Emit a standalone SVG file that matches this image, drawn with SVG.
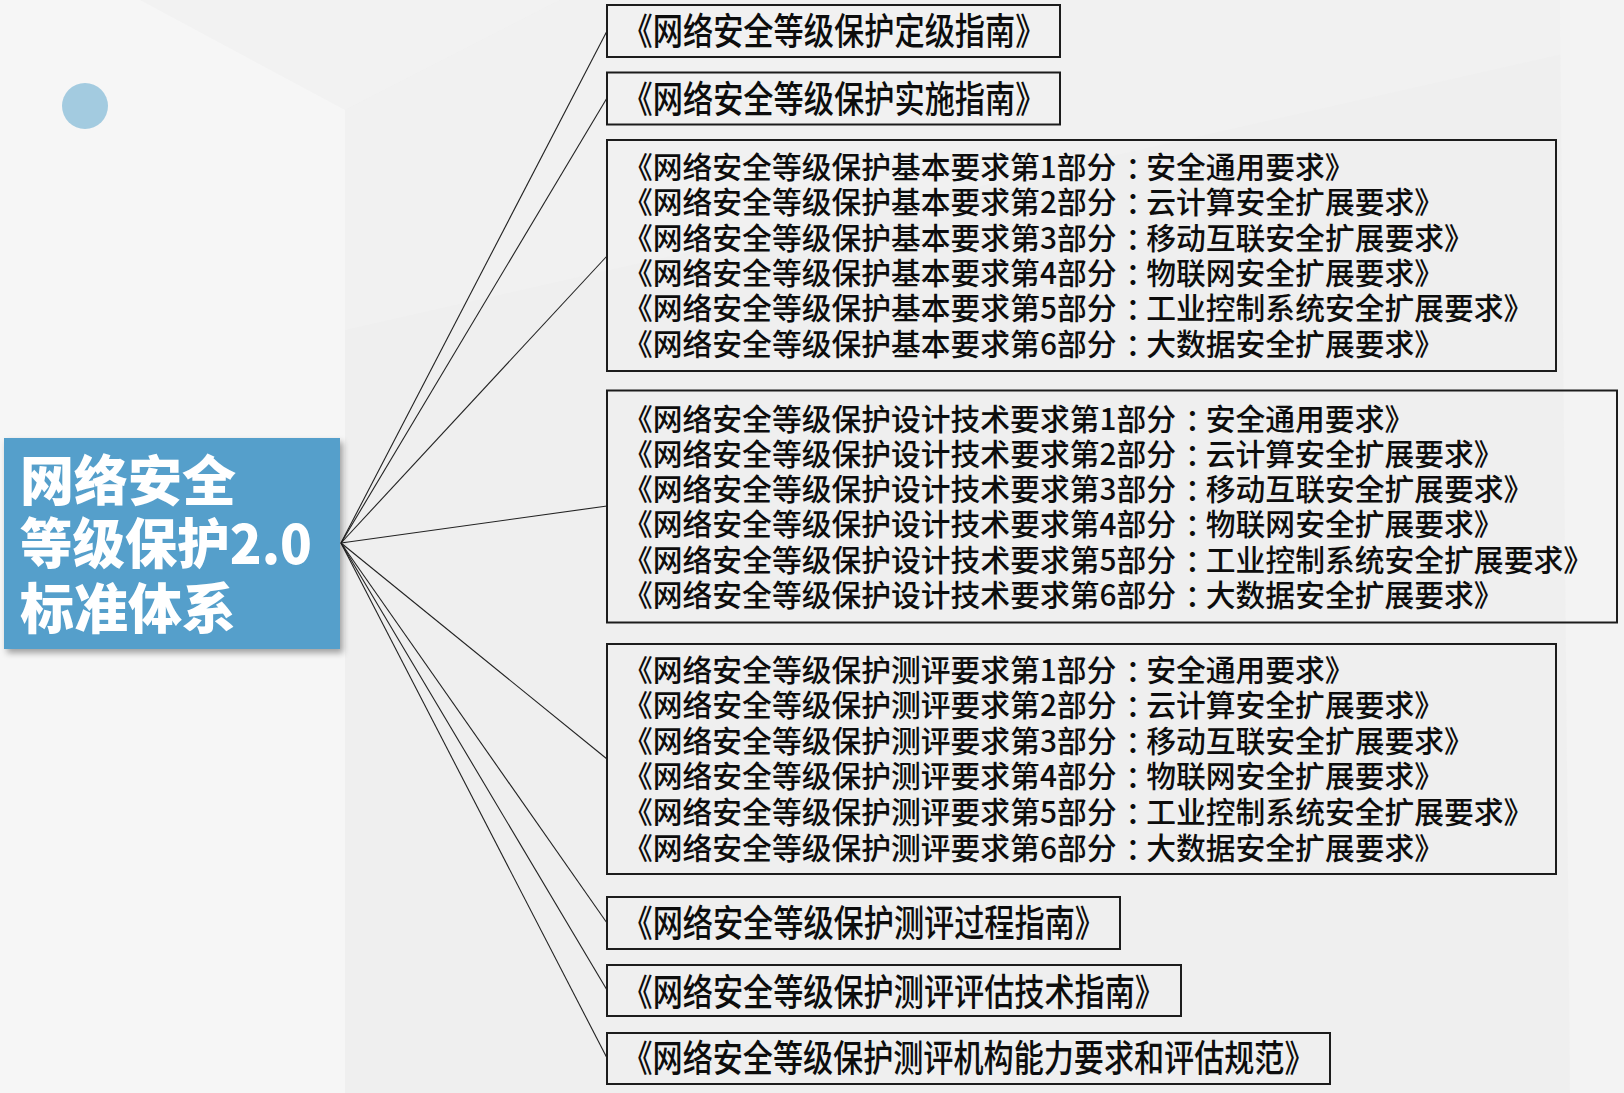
<svg xmlns="http://www.w3.org/2000/svg" width="1624" height="1093" viewBox="0 0 1624 1093">
<defs>
<style>
.box{fill:none;stroke:#1c1c1c;stroke-width:2}
.t{font-family:"Noto Sans CJK SC","Noto Sans",sans-serif;fill:#0d0d0d;font-size:29.8px;font-weight:500}
.ts{font-family:"Noto Sans CJK SC","Noto Sans",sans-serif;fill:#0d0d0d;font-size:37px;font-weight:500}
.title{font-family:"Noto Sans CJK SC","Noto Sans",sans-serif;fill:#fff;font-size:54px;font-weight:900}
.conn line{stroke:#222;stroke-width:1.1}
</style>
<filter id="sh" x="-10%" y="-10%" width="125%" height="125%">
<feDropShadow dx="3" dy="4" stdDeviation="3" flood-color="#000" flood-opacity="0.35"/>
</filter>
</defs>
<rect width="1624" height="1093" fill="#efefef"/>
<polygon points="0,0 345,0 345,1093 0,1093" fill="#f6f6f6"/>
<polygon points="140,0 345,110 560,0" fill="#f2f2f2"/>
<polygon points="345,110 560,0 1624,0 1624,40 345,330" fill="#f1f1f1"/>
<polygon points="1560,0 1624,0 1624,1093 1570,1093" fill="#f3f3f3"/>
<circle cx="85" cy="106" r="23" fill="#a3cbe0"/>

<g class="conn" id="connectors">
<line x1="341" y1="543" x2="607" y2="31"/>
<line x1="341" y1="543" x2="607" y2="98"/>
<line x1="341" y1="543" x2="607" y2="256"/>
<line x1="341" y1="543" x2="607" y2="506"/>
<line x1="341" y1="543" x2="607" y2="759"/>
<line x1="341" y1="543" x2="607" y2="923"/>
<line x1="341" y1="543" x2="607" y2="990"/>
<line x1="341" y1="543" x2="607" y2="1058"/>
</g>

<g id="root">
<rect x="4" y="438" width="336" height="211" fill="#559fcb" filter="url(#sh)"/>
<text class="title" x="20" y="501">网络安全</text>
<text class="title" x="20" y="564" textLength="292" lengthAdjust="spacingAndGlyphs">等级保护2.0</text>
<text class="title" x="20" y="629">标准体系</text>
</g>

<g id="n1">
<rect class="box" x="607" y="5" width="453" height="52"/>
<text class="ts" x="622.5" y="45" textLength="423" lengthAdjust="spacingAndGlyphs">《网络安全等级保护定级指南》</text>
</g>
<g id="n2">
<rect class="box" x="607" y="72.5" width="453" height="52"/>
<text class="ts" x="622.5" y="112.5" textLength="423" lengthAdjust="spacingAndGlyphs">《网络安全等级保护实施指南》</text>
</g>

<g id="n3">
<rect class="box" x="607" y="140" width="949" height="231"/>
<text class="t" x="623" y="178" textLength="731.6" lengthAdjust="spacingAndGlyphs" dx="0 0 0 0 0 0 0 0 0 0 0 0 0 0 0 0 0 9 -9">《网络安全等级保护基本要求第1部分：安全通用要求》</text>
<text class="t" x="623" y="213.3" textLength="821" lengthAdjust="spacingAndGlyphs" dx="0 0 0 0 0 0 0 0 0 0 0 0 0 0 0 0 0 9 -9">《网络安全等级保护基本要求第2部分：云计算安全扩展要求》</text>
<text class="t" x="623" y="248.6" textLength="850.8" lengthAdjust="spacingAndGlyphs" dx="0 0 0 0 0 0 0 0 0 0 0 0 0 0 0 0 0 9 -9">《网络安全等级保护基本要求第3部分：移动互联安全扩展要求》</text>
<text class="t" x="623" y="283.9" textLength="821" lengthAdjust="spacingAndGlyphs" dx="0 0 0 0 0 0 0 0 0 0 0 0 0 0 0 0 0 9 -9">《网络安全等级保护基本要求第4部分：物联网安全扩展要求》</text>
<text class="t" x="623" y="319.2" textLength="910.4" lengthAdjust="spacingAndGlyphs" dx="0 0 0 0 0 0 0 0 0 0 0 0 0 0 0 0 0 9 -9">《网络安全等级保护基本要求第5部分：工业控制系统安全扩展要求》</text>
<text class="t" x="623" y="354.5" textLength="821" lengthAdjust="spacingAndGlyphs" dx="0 0 0 0 0 0 0 0 0 0 0 0 0 0 0 0 0 9 -9">《网络安全等级保护基本要求第6部分：大数据安全扩展要求》</text>
</g>

<g id="n4">
<rect class="box" x="607" y="390.5" width="1010" height="232"/>
<text class="t" x="623" y="429.5" textLength="791.2" lengthAdjust="spacingAndGlyphs" dx="0 0 0 0 0 0 0 0 0 0 0 0 0 0 0 0 0 0 0 9 -9">《网络安全等级保护设计技术要求第1部分：安全通用要求》</text>
<text class="t" x="623" y="464.8" textLength="880.6" lengthAdjust="spacingAndGlyphs" dx="0 0 0 0 0 0 0 0 0 0 0 0 0 0 0 0 0 0 0 9 -9">《网络安全等级保护设计技术要求第2部分：云计算安全扩展要求》</text>
<text class="t" x="623" y="500.1" textLength="910.4" lengthAdjust="spacingAndGlyphs" dx="0 0 0 0 0 0 0 0 0 0 0 0 0 0 0 0 0 0 0 9 -9">《网络安全等级保护设计技术要求第3部分：移动互联安全扩展要求》</text>
<text class="t" x="623" y="535.4" textLength="880.6" lengthAdjust="spacingAndGlyphs" dx="0 0 0 0 0 0 0 0 0 0 0 0 0 0 0 0 0 0 0 9 -9">《网络安全等级保护设计技术要求第4部分：物联网安全扩展要求》</text>
<text class="t" x="623" y="570.7" textLength="970" lengthAdjust="spacingAndGlyphs" dx="0 0 0 0 0 0 0 0 0 0 0 0 0 0 0 0 0 0 0 9 -9">《网络安全等级保护设计技术要求第5部分：工业控制系统安全扩展要求》</text>
<text class="t" x="623" y="606" textLength="880.6" lengthAdjust="spacingAndGlyphs" dx="0 0 0 0 0 0 0 0 0 0 0 0 0 0 0 0 0 0 0 9 -9">《网络安全等级保护设计技术要求第6部分：大数据安全扩展要求》</text>
</g>

<g id="n5">
<rect class="box" x="607" y="644" width="949" height="230"/>
<text class="t" x="623" y="680.5" textLength="731.6" lengthAdjust="spacingAndGlyphs" dx="0 0 0 0 0 0 0 0 0 0 0 0 0 0 0 0 0 9 -9">《网络安全等级保护测评要求第1部分：安全通用要求》</text>
<text class="t" x="623" y="716" textLength="821" lengthAdjust="spacingAndGlyphs" dx="0 0 0 0 0 0 0 0 0 0 0 0 0 0 0 0 0 9 -9">《网络安全等级保护测评要求第2部分：云计算安全扩展要求》</text>
<text class="t" x="623" y="751.7" textLength="850.8" lengthAdjust="spacingAndGlyphs" dx="0 0 0 0 0 0 0 0 0 0 0 0 0 0 0 0 0 9 -9">《网络安全等级保护测评要求第3部分：移动互联安全扩展要求》</text>
<text class="t" x="623" y="787.3" textLength="821" lengthAdjust="spacingAndGlyphs" dx="0 0 0 0 0 0 0 0 0 0 0 0 0 0 0 0 0 9 -9">《网络安全等级保护测评要求第4部分：物联网安全扩展要求》</text>
<text class="t" x="623" y="822.9" textLength="910.4" lengthAdjust="spacingAndGlyphs" dx="0 0 0 0 0 0 0 0 0 0 0 0 0 0 0 0 0 9 -9">《网络安全等级保护测评要求第5部分：工业控制系统安全扩展要求》</text>
<text class="t" x="623" y="858.5" textLength="821" lengthAdjust="spacingAndGlyphs" dx="0 0 0 0 0 0 0 0 0 0 0 0 0 0 0 0 0 9 -9">《网络安全等级保护测评要求第6部分：大数据安全扩展要求》</text>
</g>

<g id="n6">
<rect class="box" x="607" y="897" width="513" height="52"/>
<text class="ts" x="622.5" y="937" textLength="482.5" lengthAdjust="spacingAndGlyphs">《网络安全等级保护测评过程指南》</text>
</g>
<g id="n7">
<rect class="box" x="607" y="965" width="574" height="51"/>
<text class="ts" x="622.5" y="1005.5" textLength="542.5" lengthAdjust="spacingAndGlyphs">《网络安全等级保护测评评估技术指南》</text>
</g>
<g id="n8">
<rect class="box" x="607" y="1033" width="723" height="51"/>
<text class="ts" x="622.5" y="1072" textLength="692" lengthAdjust="spacingAndGlyphs">《网络安全等级保护测评机构能力要求和评估规范》</text>
</g>
</svg>
